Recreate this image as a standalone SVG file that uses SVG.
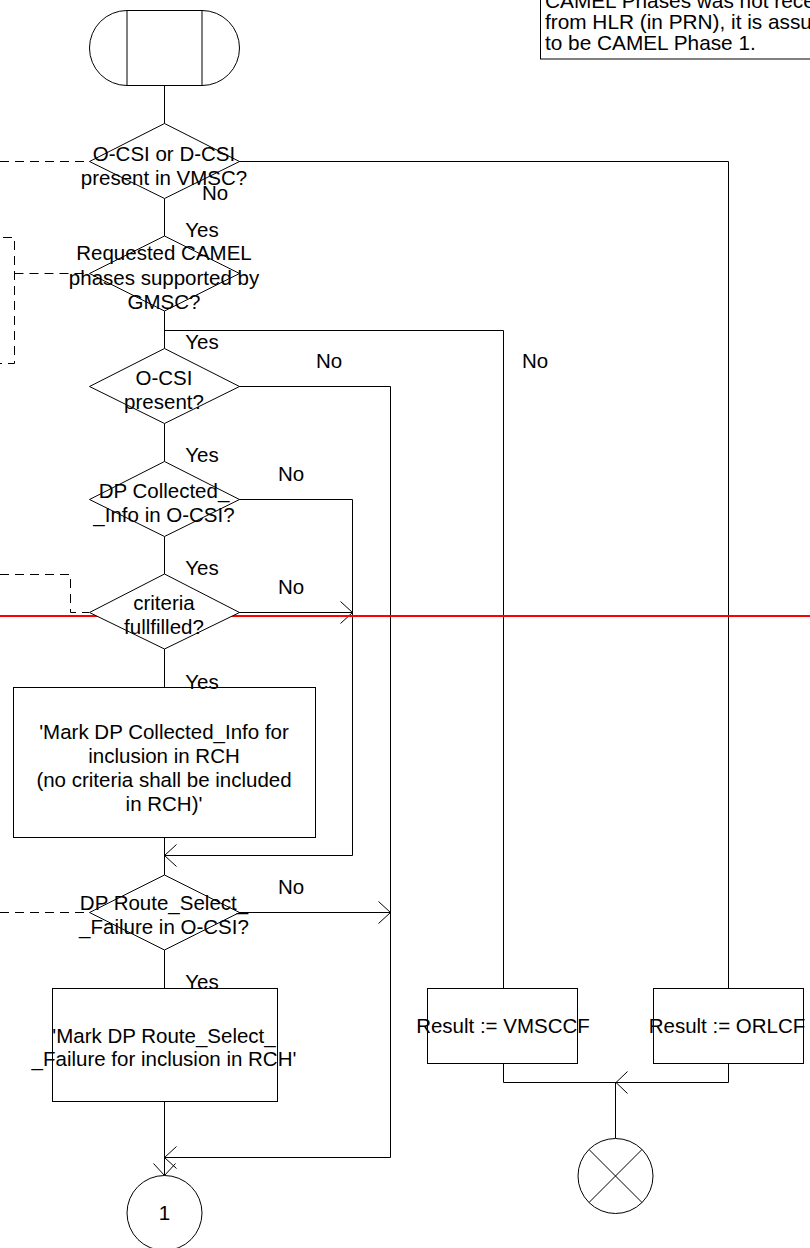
<svg xmlns="http://www.w3.org/2000/svg" width="810" height="1248" viewBox="0 0 810 1248">
<style>
  .s{fill:none;stroke:#000;stroke-width:1}
  .w{fill:#fff;stroke:#000;stroke-width:1}
  .d{fill:none;stroke:#000;stroke-width:1;stroke-dasharray:9,6}
  text{font-family:"Liberation Sans",Arial,Helvetica,sans-serif;font-size:20.5px;fill:#000}
  .m{text-anchor:middle}
  .n{font-size:20.8px}
</style>
<defs>
  <marker id="arr" markerUnits="userSpaceOnUse" markerWidth="14" markerHeight="24" refX="13" refY="12" orient="auto" overflow="visible">
    <path d="M1,1 L13,12 L1,23" fill="none" stroke="#000" stroke-width="1"/>
  </marker>
</defs>
<rect x="0" y="0" width="810" height="1248" fill="#fff"/>

<g id="connectors">
  <path class="s" d="M164.5,85 V123.5"/>
  <path class="s" d="M164.5,198.5 V236"/>
  <path class="s" d="M239,161.5 H728.5 V988"/>
  <path class="s" d="M164.5,311 V348.5"/>
  <path class="s" d="M164.5,330.5 H503.5 V988"/>
  <path class="s" d="M164.5,423.5 V461.5"/>
  <path class="s" d="M239,386.5 H390.5 V1157.5 H164.5" marker-end="url(#arr)"/>
  <path class="s" d="M164.5,536.5 V574"/>
  <path class="s" d="M239,499.5 H352.5 V855.5 H164.5" marker-end="url(#arr)"/>
  <path class="s" d="M239,612.5 H352.5" marker-end="url(#arr)"/>
  <path class="s" d="M164.5,649 V687"/>
  <path class="s" d="M164.5,837 V875"/>
  <path class="s" d="M239,912.5 H390.5" marker-end="url(#arr)"/>
  <path class="s" d="M164.5,950 V988"/>
  <path class="s" d="M164.5,1101 V1175.5" marker-end="url(#arr)"/>
  <path class="s" d="M503.5,1063 V1082.5 H728.5 V1063"/>
  <path class="s" d="M627.5,1071.5 L616,1082.5 L627.5,1093.5"/>
  <path class="s" d="M615.5,1082.5 V1138.5"/>
  <path class="d" d="M0,161.5 H89"/>
  <path class="d" d="M3,237.5 H14.5 V363.5 H0"/>
  <path class="d" d="M14.5,273.5 H89"/>
  <path class="d" d="M0,574.5 H70.5 V612.5 H89"/>
  <path class="d" d="M0,912.5 H89"/>
  <path d="M0,616 H810" stroke="#ff0000" stroke-width="2" fill="none"/>
</g>

<g id="start">
  <path class="w" d="M127,10.5 H202 A37.5,37.5 0 0 1 202,85.5 H127 A37.5,37.5 0 0 1 127,10.5 Z"/>
  <path class="s" d="M127,10.5 V85.5 M202,10.5 V85.5"/>
</g>

<g id="note">
  <rect class="w" x="540.5" y="-10" width="300" height="69"/>
  <text class="n" x="545" y="8">CAMEL Phases was not received</text>
  <text class="n" x="545" y="29">from HLR (in PRN), it is assumed</text>
  <text class="n" x="545" y="50">to be CAMEL Phase 1.</text>
</g>

<g id="dec1">
  <path class="w" d="M164.5,123.5 L239.5,161.5 L164.5,198.5 L89.5,161.5 Z"/>
  <text class="m" x="164" y="161">O-CSI or D-CSI</text>
  <text class="m" x="164" y="185">present in VMSC?</text>
  <text class="m" x="215" y="200">No</text>
  <text class="m" x="202" y="237">Yes</text>
</g>

<g id="dec2">
  <path class="w" d="M164.5,236 L239.5,273.5 L164.5,311 L89.5,273.5 Z"/>
  <text class="m" x="164" y="260">Requested CAMEL</text>
  <text class="m" x="164" y="284.5">phases supported by</text>
  <text class="m" x="164" y="308.5">GMSC?</text>
  <text class="m" x="535" y="368">No</text>
  <text class="m" x="202" y="349">Yes</text>
</g>

<g id="dec3">
  <path class="w" d="M164.5,348.5 L239.5,386.5 L164.5,423.5 L89.5,386.5 Z"/>
  <text class="m" x="164" y="385">O-CSI</text>
  <text class="m" x="164" y="409">present?</text>
  <text class="m" x="329" y="368">No</text>
  <text class="m" x="202" y="462">Yes</text>
</g>

<g id="dec4">
  <path class="w" d="M164.5,461.5 L239.5,499.5 L164.5,536.5 L89.5,499.5 Z"/>
  <text class="m" x="164" y="497.5">DP Collected_</text>
  <text class="m" x="164" y="521.5">_Info in O-CSI?</text>
  <text class="m" x="291" y="481">No</text>
  <text class="m" x="202" y="575">Yes</text>
</g>

<g id="dec5">
  <path class="w" d="M164.5,574 L239.5,612.5 L164.5,649 L89.5,612.5 Z"/>
  <text class="m" x="164" y="610">criteria</text>
  <text class="m" x="164" y="634">fullfilled?</text>
  <text class="m" x="291" y="594">No</text>
</g>

<g id="task1">
  <rect class="w" x="13.5" y="687.5" width="302" height="150"/>
  <text class="m" x="202" y="689">Yes</text>
  <text class="m" x="164" y="739">'Mark DP Collected_Info for</text>
  <text class="m" x="164" y="763">inclusion in RCH</text>
  <text class="m" x="164" y="787">(no criteria shall be included</text>
  <text class="m" x="164" y="811">in RCH)'</text>
</g>

<g id="dec6">
  <path class="w" d="M164.5,875 L239.5,912.5 L164.5,950 L89.5,912.5 Z"/>
  <text class="m" x="164" y="910">DP Route_Select_</text>
  <text class="m" x="164" y="934">_Failure in O-CSI?</text>
  <text class="m" x="291" y="894">No</text>
  <text class="m" x="202" y="989">Yes</text>
</g>

<g id="task2">
  <rect class="w" x="52.5" y="988.5" width="225" height="113"/>
  <text class="m" x="164" y="1043">'Mark DP Route_Select_</text>
  <text class="m" x="164" y="1066">_Failure for inclusion in RCH'</text>
</g>

<g id="vmsccf">
  <rect class="w" x="427.5" y="988.5" width="150" height="75"/>
  <text class="m" x="503" y="1033">Result := VMSCCF</text>
</g>

<g id="orlcf">
  <rect class="w" x="653.5" y="988.5" width="150" height="75"/>
  <text class="m" x="727" y="1033">Result := ORLCF</text>
</g>

<g id="stop">
  <circle class="w" cx="615.5" cy="1176" r="37.5"/>
  <path class="s" d="M589,1149.5 L642,1202.5 M642,1149.5 L589,1202.5"/>
</g>

<g id="connector1">
  <circle class="w" cx="164.5" cy="1213" r="37.5"/>
  <text class="m" x="164.5" y="1220">1</text>
</g>
</svg>
